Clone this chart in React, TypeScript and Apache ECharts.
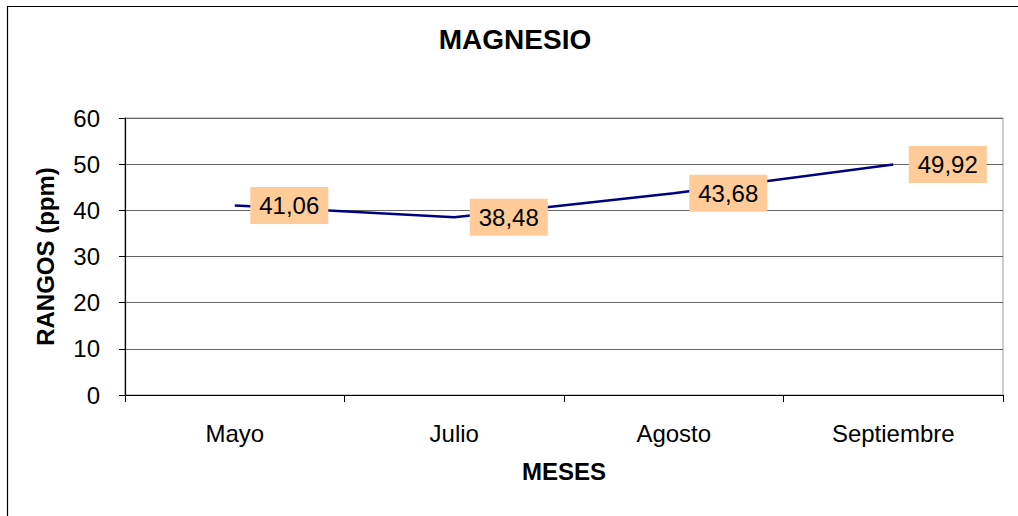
import React, { useEffect, useRef } from "react";
import * as echarts from "echarts";

const categories = ["Mayo", "Julio", "Agosto", "Septiembre"];
const values = [41.06, 38.48, 43.68, 49.92];
const yTicks = { min: 0, max: 60, interval: 10 };

const FONT = "'Liberation Sans', Arial, sans-serif";

export default function App() {
  const ref = useRef<HTMLDivElement>(null);
  useEffect(() => {
    if (!ref.current) return;
    const chart = echarts.init(ref.current, null, { renderer: "svg" });
    chart.setOption({
      animation: false,
      backgroundColor: "#ffffff",
      title: {
        text: "MAGNESIO",
        left: 510,
        top: 20,
        textAlign: "center",
        textStyle: { fontFamily: FONT, fontSize: 28, fontWeight: "bold", color: "#000" },
      },
      graphic: [
        {
          type: "rect",
          shape: { x: 7.5, y: 6.5, width: 1100, height: 600 },
          style: { fill: "none", stroke: "#000", lineWidth: 1.2 },
          silent: true,
        },
      ],
      grid: {
        left: 125,
        right: 15,
        top: 118,
        bottom: 121,
        show: true,
        borderColor: "#999",
        borderWidth: 1,
        backgroundColor: "transparent",
      },
      xAxis: {
        type: "category",
        data: categories,
        boundaryGap: true,
        name: "MESES",
        nameLocation: "middle",
        nameGap: 64,
        nameTextStyle: { fontFamily: FONT, fontSize: 24, fontWeight: "bold", color: "#000" },
        axisLine: { show: true, lineStyle: { color: "#000", width: 1.2 } },
        axisTick: { show: true, length: 7, lineStyle: { color: "#000" } },
        axisLabel: { fontFamily: FONT, fontSize: 24, color: "#000", margin: 26 },
        splitLine: { show: false },
      },
      yAxis: {
        type: "value",
        min: yTicks.min,
        max: yTicks.max,
        interval: yTicks.interval,
        name: "RANGOS (ppm)",
        nameLocation: "middle",
        nameGap: 68,
        nameRotate: 90,
        nameTextStyle: { fontFamily: FONT, fontSize: 24, fontWeight: "bold", color: "#000" },
        axisLine: { show: true, lineStyle: { color: "#000", width: 1.2 } },
        axisTick: { show: true, length: 6, lineStyle: { color: "#000" } },
        axisLabel: { fontFamily: FONT, fontSize: 24, color: "#000", margin: 25 },
        splitLine: { show: true, lineStyle: { color: "#666", width: 1 } },
      },
      series: [
        {
          type: "line",
          data: values,
          symbol: "circle",
          symbolSize: 1,
          showSymbol: true,
          itemStyle: { color: "transparent", borderWidth: 0 },
          lineStyle: { color: "#000080", width: 2.5 },
          label: {
            show: true,
            position: "right",
            distance: 15,
            formatter: (p: any) => Number(p.value).toFixed(2).replace(".", ","),
            fontFamily: FONT,
            fontSize: 24,
            color: "#000",
            backgroundColor: "#FFCC99",
            padding: [6, 9, 6, 9],
            lineHeight: 25,
          },
        },
      ],
    });
    return () => chart.dispose();
  }, []);
  return (
    <div
      ref={ref}
      style={{ position: "fixed", left: 0, top: 0, width: 1018, height: 516 }}
    />
  );
}
